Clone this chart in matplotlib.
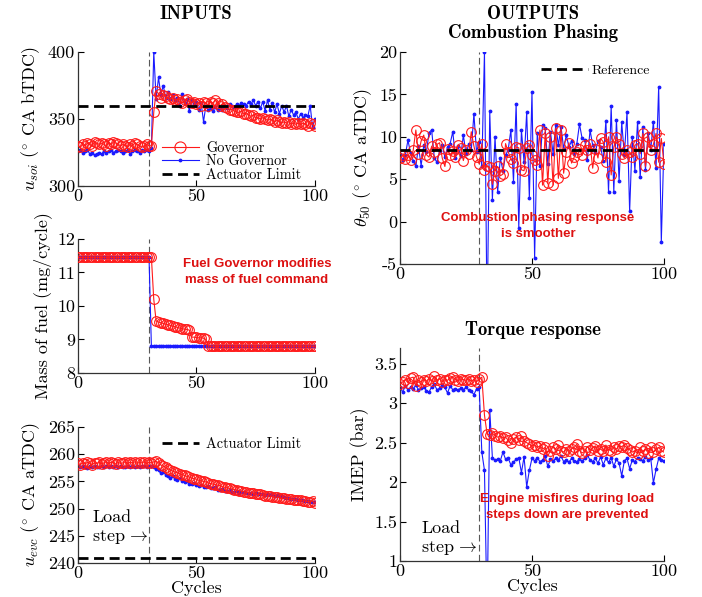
import matplotlib
matplotlib.use('Agg')
import matplotlib.pyplot as plt
import numpy as np
from matplotlib.lines import Line2D
from matplotlib.ticker import FuncFormatter

plt.rcParams['font.family'] = 'cmr10'
plt.rcParams['mathtext.fontset'] = 'cm'
plt.rcParams['axes.unicode_minus'] = False
plt.rcParams['axes.formatter.use_mathtext'] = False

cycles = np.arange(0, 101)
load_step = 30

# injection timing (deg CA bTDC)
u_soi_gov = [330, 329, 331, 330, 332, 331, 330, 333, 332, 331,
             332, 331, 330, 332, 331, 333, 332, 331, 330, 331,
             330, 329, 331, 330, 332, 331, 330, 329, 330, 331,
             330, 330, 355, 371, 369, 366, 368, 367, 366, 365,
             366, 364, 365, 363, 362, 364, 365, 363, 362, 363,
             361, 362, 360, 363, 362, 360, 363, 362, 364, 362,
             360, 361, 359, 358, 357, 357, 356, 355, 355, 356,
             354, 354, 353, 352, 353, 351, 351, 350, 351, 350,
             349, 350, 349, 348, 349, 348, 347, 348, 347, 348,
             346, 347, 346, 347, 346, 347, 346, 345, 347, 346,
             345]
u_soi_nogov = [326, 327, 325, 326, 327, 324, 325, 323, 324, 325,
               324, 326, 325, 326, 327, 325, 326, 327, 326, 325,
               326, 327, 324, 326, 327, 326, 325, 327, 326, 327,
               326, 328, 400, 365, 381, 368, 375, 366, 370, 365,
               368, 364, 366, 360, 369, 362, 365, 356, 364, 361,
               363, 357, 362, 348, 360, 357, 358, 356, 359, 357,
               358, 357, 360, 358, 361, 360, 359, 361, 360, 362,
               361, 360, 363, 361, 364, 360, 363, 358, 363, 356,
               364, 357, 362, 355, 361, 354, 360, 355, 360, 352,
               357, 353, 355, 350, 354, 351, 353, 352, 360, 344,
               350]
soi_limit = 360

# fuel mass (mg/cycle)
fuel_gov = [11.45] * 32 + [10.2, 9.55, 9.52, 9.5, 9.48, 9.46, 9.44, 9.42,
                           9.4, 9.38, 9.36, 9.34, 9.32, 9.31, 9.3, 9.28,
                           9.07, 9.07, 9.06, 9.05, 9.05, 9.04, 9.0, 8.82] + [8.8] * 45
fuel_nogov = [11.45] * 31 + [8.8] * 70

# exhaust valve closing (deg CA aTDC)
u_evc_gov = [258.3, 258.1, 258.4, 258.2, 258.5, 258.3, 258.1, 258.4, 258.3, 258.5,
             258.2, 258.4, 258.6, 258.3, 258.5, 258.4, 258.2, 258.5, 258.3, 258.4,
             258.6, 258.3, 258.5, 258.4, 258.6, 258.3, 258.5, 258.4, 258.6, 258.3,
             258.5, 258.4, 258.6, 258.7, 258.4, 258.0, 257.8, 257.6, 257.3, 257.1,
             256.9, 256.7, 256.6, 256.4, 256.2, 256.1, 255.9, 255.8, 255.6, 255.5,
             255.4, 255.2, 255.1, 255.0, 254.9, 254.7, 254.6, 254.5, 254.4, 254.3,
             254.2, 254.0, 253.9, 253.8, 253.7, 253.6, 253.5, 253.4, 253.3, 253.2,
             253.1, 253.0, 252.9, 252.9, 252.8, 252.7, 252.6, 252.6, 252.5, 252.4,
             252.3, 252.3, 252.2, 252.1, 252.1, 252.0, 251.9, 251.9, 251.8, 251.8,
             251.7, 251.6, 251.6, 251.5, 251.5, 251.4, 251.4, 251.3, 251.3, 251.4,
             251.0]
u_evc_nogov = [257.8, 257.6, 257.9, 257.7, 257.5, 257.8, 257.6, 257.9, 257.7, 257.6,
               257.8, 257.7, 257.9, 257.6, 257.8, 257.7, 257.9, 257.6, 257.8, 257.7,
               257.6, 257.9, 257.7, 257.8, 257.6, 257.9, 257.7, 257.8, 257.9, 257.7,
               257.8, 257.9, 257.6, 257.3, 257.0, 256.5, 256.8, 256.2, 256.0, 255.7,
               256.0, 255.5, 255.3, 255.6, 255.0, 254.9, 255.1, 254.6, 254.5, 254.7,
               254.3, 254.2, 254.4, 254.0, 253.9, 254.1, 253.8, 253.7, 253.9, 253.5,
               253.5, 253.6, 253.3, 253.3, 253.4, 253.1, 253.1, 253.2, 252.9, 253.0,
               253.0, 252.8, 252.9, 252.8, 252.7, 252.8, 252.6, 252.7, 252.7, 252.5,
               252.7, 252.5, 252.6, 252.4, 252.5, 252.3, 252.4, 252.1, 252.0, 251.9,
               251.8, 251.8, 251.7, 251.6, 251.6, 251.5, 251.4, 251.4, 251.3, 251.2,
               251.2]
evc_limit = 241

# combustion phasing (deg CA aTDC)
theta_gov = [7.5, 7.8, 7.4, 7.9, 7.3, 8.4, 10.8, 8.0, 9.5, 10.2,
             7.9, 7.6, 8.9, 8.2, 9.1, 9.3, 7.5, 6.5, 8.6, 7.8,
             8.3, 7.6, 9.0, 8.7, 7.2, 8.4, 8.0, 10.6, 8.9, 7.6,
             6.8, 9.2, 6.1, 6.6, 6.4, 4.4, 6.0, 6.5, 5.4, 5.6,
             9.2, 8.2, 7.4, 6.9, 8.8, 8.7, 6.1, 6.0, 8.7, 9.0,
             7.8, 7.3, 6.7, 10.8, 4.3, 10.4, 4.5, 10.0, 4.3, 11.0,
             5.1, 10.8, 5.7, 8.2, 9.3, 6.9, 7.6, 8.2, 8.6, 7.8,
             9.0, 8.4, 9.2, 6.3, 8.6, 7.5, 9.8, 9.4, 7.0, 10.0,
             5.5, 8.8, 10.0, 9.2, 8.0, 7.5, 8.4, 8.2, 7.6, 9.0,
             9.2, 8.0, 10.4, 6.5, 10.0, 8.5, 9.1, 10.4, 7.0, 9.8,
             6.8]
theta_nogov = [8.0, 7.3, 7.8, 9.6, 8.1, 7.2, 6.5, 8.9, 6.6, 9.0,
               8.2, 10.5, 10.8, 7.5, 7.0, 8.3, 9.0, 7.6, 8.8, 9.2,
               10.6, 7.5, 8.9, 7.7, 10.2, 8.0, 9.1, 8.4, 12.7, 8.2,
               9.4, 6.5, 20.0, -12.0, 13.0, 2.6, 10.0, 3.5, 7.5, 6.0,
               7.8, 8.5, 10.8, 4.7, 13.9, -0.7, 10.8, 7.0, 12.9, 2.8,
               15.3, -4.3, 10.5, 6.5, 11.4, 11.0, 6.8, 10.6, 8.0, 11.4,
               9.0, 11.2, 8.6, 10.2, 8.8, 9.5, 8.0, 9.2, 11.5, 9.8,
               9.6, 7.3, 10.8, 9.0, 8.2, 9.5, 8.8, 7.2, 11.9, 3.5,
               13.6, 3.5, 12.0, 4.8, 11.7, 7.8, 12.9, 1.2, 10.0, 6.0,
               11.8, 5.2, 11.1, 6.1, 10.5, 8.5, 11.8, 6.3, 15.9, -2.4,
               9.2]
theta_ref = 8.5

# IMEP (bar)
imep_gov = [3.24, 3.27, 3.30, 3.26, 3.32, 3.33, 3.22, 3.29, 3.27, 3.30,
            3.28, 3.31, 3.28, 3.34, 3.29, 3.31, 3.27, 3.30, 3.29, 3.32,
            3.33, 3.30, 3.28, 3.31, 3.30, 3.29, 3.31, 3.28, 3.30, 3.27,
            3.31, 3.33, 2.85, 2.61, 2.60, 2.62, 2.59, 2.57, 2.58, 2.56,
            2.57, 2.53, 2.49, 2.55, 2.57, 2.54, 2.58, 2.52, 2.50, 2.48,
            2.46, 2.47, 2.44, 2.46, 2.42, 2.44, 2.33, 2.40, 2.45, 2.42,
            2.47, 2.40, 2.38, 2.42, 2.39, 2.42, 2.44, 2.48, 2.40, 2.37,
            2.39, 2.45, 2.41, 2.43, 2.46, 2.40, 2.42, 2.39, 2.47, 2.41,
            2.40, 2.44, 2.42, 2.46, 2.45, 2.47, 2.43, 2.41, 2.38, 2.40,
            2.36, 2.44, 2.39, 2.42, 2.37, 2.45, 2.38, 2.42, 2.44, 2.40,
            2.38]
imep_nogov = [3.21, 3.14, 3.22, 3.17, 3.20, 3.18, 3.23, 3.17, 3.19, 3.21,
              3.16, 3.14, 3.21, 3.24, 3.17, 3.19, 3.23, 3.20, 3.13, 3.22,
              3.17, 3.18, 3.17, 3.19, 3.17, 3.20, 3.17, 3.15, 3.11, 3.18,
              3.20, 2.38, 2.15, 0.30, 2.92, 2.31, 2.28, 2.29, 2.27, 2.38,
              2.29, 2.30, 2.22, 2.25, 2.29, 2.31, 2.12, 2.32, 1.94, 2.15,
              2.30, 2.27, 2.31, 2.26, 2.28, 2.33, 2.20, 2.29, 2.27, 2.30,
              2.28, 2.33, 2.26, 2.28, 2.25, 2.30, 2.27, 2.26, 2.29, 2.27,
              2.30, 2.34, 2.28, 2.26, 2.30, 2.24, 2.32, 2.22, 2.30, 2.25,
              2.31, 2.20, 2.29, 2.24, 2.08, 2.27, 2.30, 2.17, 2.28, 2.26,
              2.31, 2.29, 2.27, 2.32, 2.28, 2.30, 1.99, 2.16, 2.30, 2.28,
              2.27]

red = '#ff1a1a'
blue = '#1a1aff'
note_red = '#dd1111'
limit_dash = (0, (3.6, 2.0))

fig = plt.figure(figsize=(7.02, 5.97), dpi=100)

ax1 = fig.add_axes([0.111, 0.6884, 0.3376, 0.2245])
ax2 = fig.add_axes([0.111, 0.3752, 0.3376, 0.2245])
ax3 = fig.add_axes([0.111, 0.0570, 0.3376, 0.2278])
ax4 = fig.add_axes([0.5698, 0.5578, 0.376, 0.3551])
ax5 = fig.add_axes([0.5698, 0.0603, 0.376, 0.3568])


def draw_pair(ax, gov, nogov):
    ax.plot(cycles, nogov, color=blue, lw=0.8, marker='.', ms=3.5, zorder=2)
    ax.plot(cycles, gov, color=red, lw=0.8, marker='o', ms=7, mfc='none',
            mec=red, mew=0.8, zorder=3)
    ax.axvline(load_step, color='0.35', lw=0.8, ls=(0, (6, 3)), zorder=1)


def style(ax, ylim, yticks):
    ax.set_xlim(0, 100)
    ax.set_ylim(*ylim)
    ax.set_xticks([0, 50, 100])
    ax.set_yticks(yticks)
    for s in ['top', 'right']:
        ax.spines[s].set_visible(False)
    for s in ['left', 'bottom']:
        ax.spines[s].set_color('0.2')
        ax.spines[s].set_linewidth(0.9)
    ax.tick_params(direction='in', length=4, width=0.8, labelsize=13, pad=2)
    ax.yaxis.set_major_formatter(FuncFormatter(lambda v, p: '%g' % v))
    ax.xaxis.set_major_formatter(FuncFormatter(lambda v, p: '%g' % v))


# u_soi
draw_pair(ax1, u_soi_gov, u_soi_nogov)
ax1.axhline(soi_limit, color='k', lw=2, ls=limit_dash, zorder=4)
style(ax1, (300, 400), [300, 350, 400])
ax1.set_ylabel(r'$u_{soi}$ ($^{\circ}$ CA bTDC)', fontsize=13)
handles = [Line2D([], [], color=red, lw=0.8, marker='o', ms=8, mfc='none', mec=red, mew=0.8),
           Line2D([], [], color=blue, lw=0.8, marker='.', ms=3.5),
           Line2D([], [], color='k', lw=2, ls=limit_dash)]
ax1.legend(handles, ['Governor', 'No Governor', 'Actuator Limit'], loc='lower right',
           bbox_to_anchor=(0.985, -0.045), frameon=False, fontsize=10.3,
           handlelength=2.6, handletextpad=0.5, labelspacing=0.0, borderpad=0.2)

# fuel
draw_pair(ax2, fuel_gov, fuel_nogov)
style(ax2, (8, 12), [8, 9, 10, 11, 12])
ax2.set_ylabel('Mass of fuel (mg/cycle)', fontsize=13)
ax2.text(0.755, 0.755, 'Fuel Governor modifies\nmass of fuel command', transform=ax2.transAxes,
         ha='center', va='center', color=note_red, fontsize=9.5, fontweight='bold',
         family='Liberation Sans', linespacing=1.45)

# u_evc
draw_pair(ax3, u_evc_gov, u_evc_nogov)
ax3.axhline(evc_limit, color='k', lw=2, ls=limit_dash, zorder=4)
style(ax3, (240, 265), [240, 245, 250, 255, 260, 265])
ax3.set_ylabel(r'$u_{evc}$ ($^{\circ}$ CA aTDC)', fontsize=13)
ax3.set_xlabel('Cycles', fontsize=13, labelpad=0)
ax3.legend([Line2D([], [], color='k', lw=2, ls=limit_dash)], ['Actuator Limit'],
           loc='upper right', bbox_to_anchor=(0.985, 1.0), frameon=False, fontsize=10.3,
           handlelength=2.6, handletextpad=0.5, borderpad=0.2)
ax3.text(0.06, 0.26, 'Load\nstep$\\,\\rightarrow$', transform=ax3.transAxes, ha='left',
         va='center', fontsize=13, linespacing=1.2)

# theta50
draw_pair(ax4, theta_gov, theta_nogov)
ax4.axhline(theta_ref, color='k', lw=2, ls=limit_dash, zorder=4)
style(ax4, (-5, 20), [-5, 0, 5, 10, 15, 20])
ax4.set_ylabel(r'$\theta_{50}$ ($^{\circ}$ CA aTDC)', fontsize=13)
ax4.legend([Line2D([], [], color='k', lw=2, ls=limit_dash)], ['Reference'],
           loc='upper right', bbox_to_anchor=(0.985, 0.99), frameon=False, fontsize=10,
           handlelength=3.4, handletextpad=0.3, borderpad=0.2)
ax4.text(0.523, 0.18, 'Combustion phasing response\nis smoother', transform=ax4.transAxes,
         ha='center', va='center', color=note_red, fontsize=9.5, fontweight='bold',
         family='Liberation Sans', linespacing=1.45)

# IMEP
draw_pair(ax5, imep_gov, imep_nogov)
style(ax5, (1, 3.7), [1, 1.5, 2, 2.5, 3, 3.5])
ax5.set_ylabel('IMEP (bar)', fontsize=13)
ax5.set_xlabel('Cycles', fontsize=13, labelpad=0)
ax5.text(0.634, 0.254, 'Engine misfires during load\nsteps down are prevented',
         transform=ax5.transAxes, ha='center', va='center', color=note_red, fontsize=9.5,
         fontweight='bold', family='Liberation Sans', linespacing=1.45)
ax5.text(0.08, 0.105, 'Load\nstep$\\,\\rightarrow$', transform=ax5.transAxes, ha='left',
         va='center', fontsize=13, linespacing=1.2)

fig.text(196 / 702, 1 - 14 / 597, 'INPUTS', ha='center', va='center', family='cmb10', fontsize=13.5)
fig.text(533 / 702, 1 - 14 / 597, 'OUTPUTS', ha='center', va='center', family='cmb10', fontsize=13.5)
fig.text(533 / 702, 1 - 33 / 597, 'Combustion Phasing', ha='center', va='center', family='cmb10', fontsize=13.5)
fig.text(533 / 702, 1 - 330 / 597, 'Torque response', ha='center', va='center', family='cmb10', fontsize=13.5)

fig.savefig('out.png', dpi=100)
